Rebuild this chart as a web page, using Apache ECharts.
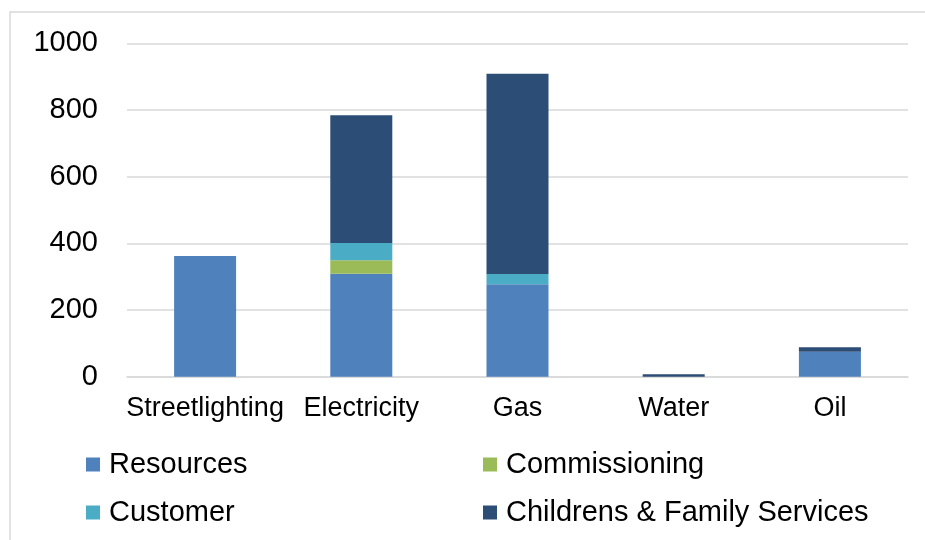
<!DOCTYPE html>
<html>
<head>
<meta charset="utf-8">
<script src="https://cdn.jsdelivr.net/npm/echarts@6/dist/echarts.min.js"></script>
<style>
  html, body { margin: 0; padding: 0; background: #fff; }
  #chart { width: 925px; height: 540px; }
</style>
</head>
<body>
<div id="chart"></div>
<script>
// Energy spend by directorate, stacked per utility type
const categories = ['Streetlighting', 'Electricity', 'Gas', 'Water', 'Oil'];
const resources = [362, 309, 277, 0, 75];
const commissioning = [0, 40, 0, 0, 0];
const customer = [0, 52, 31, 0, 0];
const childrens = [0, 383, 601, 7, 13];
const yTicks = [0, 200, 400, 600, 800, 1000];

const seriesNames = ['Resources', 'Commissioning', 'Customer', 'Childrens & Family Services'];
const seriesData = [resources, commissioning, customer, childrens];
const colors = ['#4F81BD', '#9BBB59', '#4BACC6', '#2C4D75'];

const font = 'Liberation Sans, Arial, sans-serif';

const chart = echarts.init(document.getElementById('chart'), null, { renderer: 'canvas' });

// one legend block per entry so the two-column layout lines up
const legendPos = [
  { left: 86, top: 450 },
  { left: 483, top: 450 },
  { left: 86, top: 498 },
  { left: 483, top: 498 }
];

chart.setOption({
  animation: false,
  backgroundColor: '#ffffff',
  color: colors,
  graphic: [{
    type: 'rect',
    shape: { x: 10, y: 12, width: 930, height: 540 },
    style: { fill: 'none', stroke: '#d9d9d9', lineWidth: 1.5 },
    silent: true
  }],
  grid: { left: 127, right: 17, top: 43.3, bottom: 163.3, containLabel: false },
  legend: seriesNames.map((name, i) => ({
    data: [name],
    left: legendPos[i].left,
    top: legendPos[i].top,
    itemWidth: 14,
    itemHeight: 14,
    itemGap: 0,
    icon: 'rect',
    padding: 0,
    selectedMode: false,
    textStyle: { fontFamily: font, fontSize: 29, color: '#000', padding: [0, 0, 0, 4] }
  })),
  xAxis: {
    type: 'category',
    data: categories,
    axisLine: { show: true, lineStyle: { color: '#d9d9d9', width: 1.5 } },
    axisTick: { show: false },
    axisLabel: { fontFamily: font, fontSize: 27, color: '#000', margin: 18, interval: 0 }
  },
  yAxis: {
    type: 'value',
    min: yTicks[0],
    max: yTicks[yTicks.length - 1],
    interval: 200,
    axisLine: { show: false },
    axisTick: { show: false },
    splitLine: { lineStyle: { color: '#d9d9d9', width: 1.5 } },
    axisLabel: {
      fontFamily: font, fontSize: 29, color: '#000', margin: 29,
      formatter: (v) => String(v)
    }
  },
  series: seriesNames.map((name, i) => ({
    name: name,
    type: 'bar',
    stack: 'total',
    barWidth: 62,
    data: seriesData[i],
    itemStyle: { color: colors[i] }
  }))
});
</script>
</body>
</html>
